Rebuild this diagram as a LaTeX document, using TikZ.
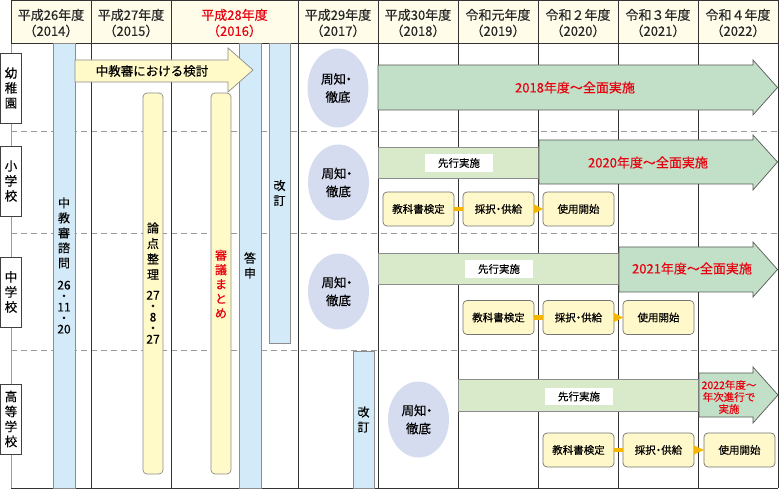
\documentclass[tikz,border=0pt]{standalone}
\usepackage{fontspec}
\setmainfont{Noto Sans CJK JP}[FakeBold=0.35]
\usetikzlibrary{calc,shapes.geometric}
\definecolor{hdrfill}{HTML}{FFFDEA}
\definecolor{bluefill}{HTML}{D3EAF8}
\definecolor{yelfill}{HTML}{FFFAC8}
\definecolor{ellfill}{HTML}{D5DCEF}
\definecolor{grnfill}{HTML}{C2E0C7}
\definecolor{lgrnfill}{HTML}{D9EACA}
\definecolor{boxfill}{HTML}{FFF8CA}
\definecolor{orgfill}{HTML}{F6B500}
\definecolor{jred}{HTML}{E8000F}
\definecolor{darkline}{HTML}{333333}
\definecolor{grayline}{HTML}{9A9A9A}
\definecolor{barline}{HTML}{8C8C8C}
\newcommand{\shuchitxt}{周知\kern-3.5pt・\\徹底}
\newcommand{\saitakutxt}{採択\kern-2.5pt・\kern-2.5pt供給}
\begin{document}
\begin{tikzpicture}[x=1pt,y=-1pt,
  every node/.style={inner sep=0pt,outer sep=0pt},
  hdrtxt/.style={font=\fontsize{13}{16}\selectfont,align=center,text=black!85},
  vbar/.style={draw=barline,line width=0.7,fill=bluefill,align=center,font=\fontsize{12}{15}\selectfont},
  ybar/.style={draw=barline,line width=0.7,fill=yelfill,rounded corners=4,align=center,font=\fontsize{12}{15.5}\selectfont},
  shuchi/.style={ellipse,fill=ellfill,minimum width=61,minimum height=76,align=center,font=\fontsize{12.5}{18}\selectfont},
  garrow/.style={draw=black!65,line width=0.7,fill=grnfill},
  sbar/.style={draw=black!45,line width=0.7,fill=lgrnfill},
  slabel/.style={fill=white,minimum width=68,minimum height=18,font=\fontsize{10.5}{12}\selectfont},
  stepbox/.style={draw=black!55,line width=0.7,fill=boxfill,rounded corners=4,minimum width=71,minimum height=34,font=\fontsize{10.5}{12}\selectfont},
  redtxt/.style={text=jred,font=\fontsize{13}{15}\selectfont},
  rowlab/.style={draw=black!75,line width=0.8,fill=white,minimum width=21,minimum height=70,align=center,font=\fontsize{12.5}{15}\selectfont},
  conn/.style={orgfill,line width=4.5},
]
\useasboundingbox (0,0) rectangle (780,489);
% header background
\fill[hdrfill] (11,0) rectangle (778,43);
% dashed row separators
\foreach \yy in {131,233,350}
  \draw[grayline,line width=0.8,dash pattern=on 6pt off 4pt] (11,\yy) -- (778,\yy);
% grid lines
\foreach \xx in {91,171,298,378,458,538,618,698,778}
  \draw[darkline,line width=0.8] (\xx,0) -- (\xx,488);
\draw[darkline,line width=0.8] (11,0) -- (11,43);
\draw[grayline,line width=0.8] (11,43) -- (11,488);
\draw[darkline,line width=0.8] (11,0.4) -- (778,0.4);
\draw[darkline,line width=0.8] (11,43) -- (778,43);
\draw[darkline,line width=0.8] (11,488) -- (778,488);

% vertical bars
\node[vbar,minimum width=22,minimum height=445] (shimonbar) at (64,265.5) {};
\node[font=\fontsize{12}{15}\selectfont,align=center] (shimon) at (64,265.5)
  {中\\教\\審\\諮\\問\\[7pt]26\\[-4pt]・\\[-4pt]11\\[-4pt]・\\[-4pt]20};
\node[ybar,minimum width=20,minimum height=381] (rontenbar) at (153,283.5) {};
\node[font=\fontsize{12}{15.5}\selectfont,align=center] (ronten) at (153,283)
  {論\\点\\整\\理\\[5pt]27\\[-4.5pt]・\\[-4.5pt]8\\[-4.5pt]・\\[-4.5pt]27};
\node[ybar,minimum width=20,minimum height=381] (matomebar) at (221,283.5) {};
\node[font=\fontsize{12}{14.5}\selectfont,align=center,text=jred] (matome) at (221,284)
  {審\\議\\ま\\と\\め};
\node[vbar,minimum width=22,minimum height=445] (toshinbar) at (250,265.5) {};
\node[font=\fontsize{12}{15}\selectfont,align=center] (toshin) at (250,265.5) {答\\申};
\node[vbar,minimum width=21,minimum height=300] (kaitei1) at (279.5,193) {改\\訂};
\node[vbar,minimum width=21,minimum height=137] (kaitei2) at (363.5,419.5) {改\\訂};

% yellow arrow
\draw[draw=barline,line width=0.7,fill=yelfill] (75,60) -- (228,60) -- (228,48) -- (253,70) -- (228,92) -- (228,82) -- (75,82) -- cycle;
\node[font=\fontsize{12.5}{14}\selectfont] (kento) at (152,71) {中教審における検討};

% ellipses
\node[shuchi,minimum height=79] (s1) at (338,88) {\shuchitxt};
\node[shuchi] (s2) at (338.5,182.5) {\shuchitxt};
\node[shuchi] (s3) at (338.5,291.5) {\shuchitxt};
\node[shuchi] (s4) at (418.5,419.5) {\shuchitxt};

% row 1: kindergarten
\draw[garrow] (378,65) -- (753,65) -- (753,60) -- (777.5,87.5) -- (753,115) -- (753,110) -- (378,110) -- cycle;
\node[redtxt] (z1) at (575,87.5) {2018年度～全面実施};

% row 2: elementary
\draw[sbar] (378,147) rectangle (538,178);
\node[slabel] (p2) at (459,163) {先行実施};
\draw[garrow] (539,140) -- (753,140) -- (753,135) -- (777.5,162) -- (753,190) -- (753,184) -- (539,184) -- cycle;
\node[redtxt] (z2) at (648,162.5) {2020年度～全面実施};
\node[stepbox] (b21) at (418.5,209) {教科書検定};
\node[stepbox] (b22) at (498.5,209) {\saitakutxt};
\node[stepbox] (b23) at (578.5,209) {使用開始};
\draw[conn] (b21.east) -- (b22.west);
\fill[orgfill] ($(b22.east)+(0,-4.5)$) -- (b23.west) -- ($(b22.east)+(0,4.5)$) -- cycle;

% row 3: junior high
\draw[sbar] (378,253) rectangle (618,284);
\node[slabel] (p3) at (499,269) {先行実施};
\draw[garrow] (619,247) -- (753,247) -- (753,242) -- (777.5,269.5) -- (753,297) -- (753,292) -- (619,292) -- cycle;
\node[redtxt] (z3) at (692,268.5) {2021年度～全面実施};
\node[stepbox] (b31) at (498.5,317.5) {教科書検定};
\node[stepbox] (b32) at (578.5,317.5) {\saitakutxt};
\node[stepbox] (b33) at (658.5,317.5) {使用開始};
\draw[conn] (b31.east) -- (b32.west);
\fill[orgfill] ($(b32.east)+(0,-4.5)$) -- (b33.west) -- ($(b32.east)+(0,4.5)$) -- cycle;

% row 4: high school
\draw[sbar] (458,379) rectangle (698,411);
\node[slabel,minimum height=17] (p4) at (579,396.5) {先行実施};
\draw[garrow] (699,373) -- (753,373) -- (753,367) -- (778,395) -- (753,423) -- (753,417) -- (699,417) -- cycle;
\node[text=jred,font=\fontsize{10.5}{12}\selectfont,align=center] (z4) at (729,397) {2022年度～\\年次進行で\\実施};
\node[stepbox] (b41) at (578.5,450) {教科書検定};
\node[stepbox] (b42) at (658.5,450) {\saitakutxt};
\node[stepbox] (b43) at (739.5,450) {使用開始};
\draw[conn] (b41.east) -- (b42.west);
\fill[orgfill] ($(b42.east)+(0,-4.5)$) -- (b43.west) -- ($(b42.east)+(0,4.5)$) -- cycle;

% row labels
\node[rowlab] (r1) at (11,88) {幼\\稚\\園};
\node[rowlab] (r2) at (11,181) {小\\学\\校};
\node[rowlab] (r3) at (11,292) {中\\学\\校};
\node[rowlab] (r4) at (11,419) {高\\等\\学\\校};

% header texts
\node[hdrtxt] (h1) at (51,23) {平成26年度\\（2014）};
\node[hdrtxt] (h2) at (131,23) {平成27年度\\（2015）};
\node[hdrtxt,text=jred] (h3) at (234.5,23) {平成28年度\\（2016）};
\node[hdrtxt] (h4) at (338,23) {平成29年度\\（2017）};
\node[hdrtxt] (h5) at (418,23) {平成30年度\\（2018）};
\node[hdrtxt] (h6) at (498,23) {令和元年度\\（2019）};
\node[hdrtxt] (h7) at (578,23) {令和２年度\\（2020）};
\node[hdrtxt] (h8) at (658,23) {令和３年度\\（2021）};
\node[hdrtxt] (h9) at (738,23) {令和４年度\\（2022）};
\end{tikzpicture}
\end{document}
